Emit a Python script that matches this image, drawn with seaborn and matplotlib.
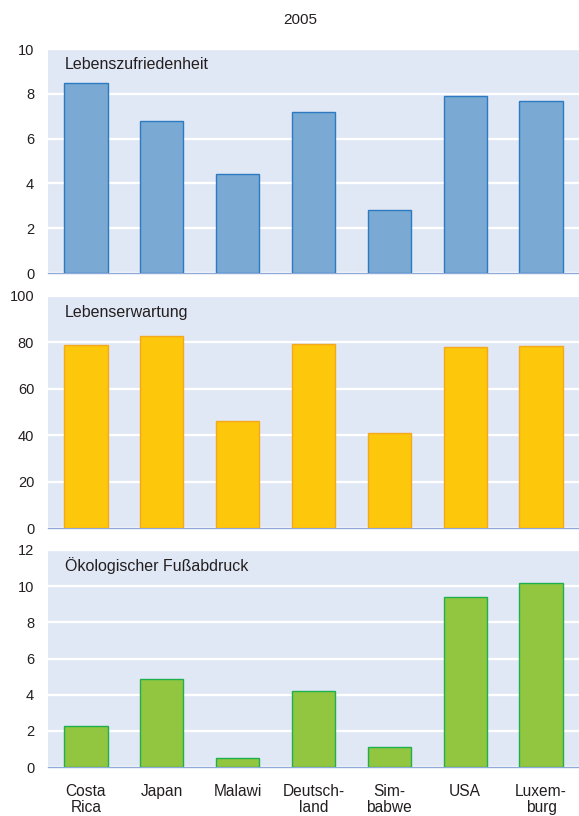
import matplotlib
matplotlib.use('Agg')
import matplotlib.pyplot as plt
import seaborn as sns

sns.set_style('white')
plt.rcParams['font.family'] = ['Liberation Sans', 'DejaVu Sans']
plt.rcParams['text.color'] = '#231F20'
plt.rcParams['xtick.color'] = '#231F20'
plt.rcParams['ytick.color'] = '#231F20'

# --- Daten (2005) ---
laender = ['Costa\nRica', 'Japan', 'Malawi', 'Deutsch-\nland', 'Sim-\nbabwe', 'USA', 'Luxem-\nburg']
lebenszufriedenheit = [8.5, 6.8, 4.4, 7.2, 2.8, 7.9, 7.7]
lebenserwartung = [78.9, 82.6, 46.3, 79.3, 41.0, 78.1, 78.6]
fussabdruck = [2.27, 4.89, 0.48, 4.21, 1.12, 9.4, 10.16]

titel = ['Lebenszufriedenheit', 'Lebenserwartung', 'Ökologischer Fußabdruck']
ymax = [10, 100, 12]
ystep = [2, 20, 2]
fill = ['#7AAAD4', '#FDC70C', '#92C640']
edge = ['#2C7BC0', '#F4A81D', '#1FAF4E']
# Achsenpositionen [links, unten, breite, höhe] in Figurenanteilen
pos = [[0.083, 0.6654, 0.917, 0.2745],
       [0.083, 0.3526, 0.917, 0.2847],
       [0.083, 0.0600, 0.917, 0.2660]]

fig = plt.figure(figsize=(5.79, 8.16), dpi=100)
serien = [lebenszufriedenheit, lebenserwartung, fussabdruck]

for i, werte in enumerate(serien):
    ax = fig.add_axes(pos[i])
    ax.set_facecolor('#E1E8F5')
    sns.barplot(x=laender, y=werte, color=fill[i], edgecolor=edge[i],
                linewidth=1.0, width=0.57, saturation=1, ax=ax, zorder=3)
    ax.set_xlim(-0.5, len(laender) - 0.5)
    ax.set_ylim(0, ymax[i])
    ax.set_yticks(range(0, ymax[i] + 1, ystep[i]))
    ax.yaxis.grid(True, color='white', linewidth=1.6, zorder=0)
    ax.set_axisbelow(True)
    for s in ['top', 'right', 'left']:
        ax.spines[s].set_visible(False)
    ax.spines['bottom'].set_color('#8FAADA')
    ax.spines['bottom'].set_linewidth(1.0)
    ax.tick_params(axis='y', length=0, labelsize=10.5, pad=10)
    # Trennstriche zwischen den Kategorien
    ax.set_xticks([k - 0.5 for k in range(len(laender) + 1)], minor=True)
    ax.tick_params(axis='x', which='minor', length=5, color='#8FAADA', width=1.0)
    ax.tick_params(axis='x', which='major', length=0, labelsize=11.2, pad=12)
    if i < 2:
        ax.set_xticklabels([])
    else:
        ax.set_xticklabels(laender, linespacing=1.1)
    ax.set_xlabel('')
    ax.set_ylabel('')
    ax.text(0.032, 0.93, titel[i], transform=ax.transAxes, fontsize=11.5,
            va='center', ha='left')

fig.text(0.518, 0.975, '2005', ha='center', va='center', fontsize=11)

plt.savefig('out.png', dpi=100)
